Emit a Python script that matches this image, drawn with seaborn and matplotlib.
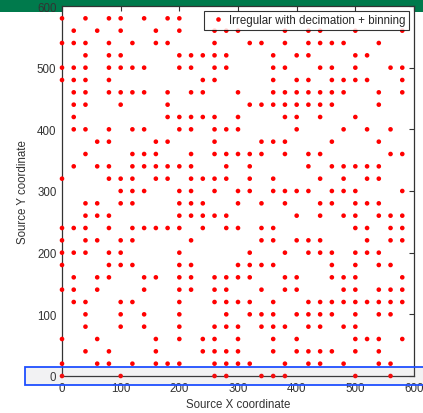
import matplotlib
matplotlib.use("Agg")
import matplotlib.pyplot as plt
import seaborn as sns
import pandas as pd
from matplotlib.patches import Rectangle

# x coordinates of the points present on each y level (grid step 20)
row_y000 = [0, 100, 260, 280, 340, 360, 380, 500, 560]
row_y020 = [0, 60, 80, 120, 160, 180, 200, 260, 280, 300, 320, 380, 420, 440, 480, 540, 560]
row_y040 = [40, 80, 160, 240, 260, 280, 300, 360, 400, 420, 440, 460, 500, 540]
row_y060 = [0, 60, 160, 200, 240, 260, 300, 360, 400, 500, 520, 540, 580]
row_y080 = [40, 100, 140, 200, 260, 280, 300, 340, 360, 380, 420, 440, 480, 500]
row_y100 = [40, 100, 140, 200, 280, 320, 340, 360, 400, 420, 440, 460, 500, 540, 560]
row_y120 = [20, 40, 100, 120, 200, 260, 280, 300, 320, 360, 420, 440, 460, 480, 500, 520, 540, 560, 580]
row_y140 = [0, 20, 60, 140, 200, 220, 260, 280, 340, 380, 400, 480, 500, 540, 560, 580]
row_y160 = [20, 60, 80, 140, 160, 200, 220, 260, 280, 300, 320, 380, 400, 460, 480, 500, 580]
row_y180 = [0, 80, 100, 120, 200, 220, 300, 320, 340, 360, 460, 500, 540, 560]
row_y200 = [0, 20, 40, 80, 100, 200, 320, 380, 420, 440, 460, 500, 520, 540]
row_y220 = [0, 40, 60, 100, 120, 220, 340, 360, 400, 420, 440, 520, 560, 580]
row_y240 = [0, 20, 40, 80, 120, 140, 160, 180, 200, 240, 280, 300, 340, 360, 500, 520, 560, 580]
row_y260 = [40, 60, 80, 200, 220, 240, 260, 280, 400, 440, 480, 500, 540, 560, 580]
row_y280 = [40, 60, 100, 120, 200, 220, 240, 300, 340, 380, 440, 460, 500, 520, 540]
row_y300 = [100, 120, 140, 200, 220, 260, 300, 320, 360, 380, 400, 420, 460, 480, 500, 580]
row_y320 = [0, 80, 100, 120, 160, 180, 220, 240, 260, 280, 320, 360, 440, 480, 520, 540]
row_y340 = [20, 60, 80, 120, 140, 160, 180, 200, 220, 280, 320, 420, 460, 480, 500, 520, 540]
row_y360 = [40, 120, 140, 160, 220, 260, 280, 300, 320, 340, 380, 420, 440, 560, 580]
row_y380 = [60, 80, 160, 180, 260, 340, 360, 380, 460, 540]
row_y400 = [20, 40, 80, 120, 140, 200, 220, 260, 280, 300, 400, 480, 520, 560]
row_y420 = [20, 180, 200, 220, 240, 260, 300, 380, 400, 440, 500]
row_y440 = [20, 40, 100, 180, 320, 340, 360, 380, 400, 420, 440, 460, 540]
row_y460 = [20, 40, 80, 100, 120, 140, 180, 220, 240, 300, 360, 380, 400, 420, 440, 460, 480, 540, 580]
row_y480 = [0, 20, 40, 80, 240, 260, 360, 400, 420, 460, 480, 500, 520, 580]
row_y500 = [0, 20, 40, 80, 100, 120, 140, 200, 220, 260, 280, 360, 380, 440, 460, 500, 560, 580]
row_y520 = [40, 80, 100, 200, 220, 240, 260, 280, 360, 400, 420, 500, 520]
row_y540 = [0, 20, 40, 80, 120, 160, 180, 260, 320, 340, 380, 420, 440, 460, 480, 540]
row_y560 = [20, 60, 100, 160, 200, 260, 280, 300, 380, 420, 440, 500, 580]
row_y580 = [0, 40, 80, 100, 140, 180, 200]

y_levels = list(range(0, 600, 20))
rows = [row_y000, row_y020, row_y040, row_y060, row_y080, row_y100, row_y120,
        row_y140, row_y160, row_y180, row_y200, row_y220, row_y240, row_y260,
        row_y280, row_y300, row_y320, row_y340, row_y360, row_y380, row_y400,
        row_y420, row_y440, row_y460, row_y480, row_y500, row_y520, row_y540,
        row_y560, row_y580]

series_label = "Irregular with decimation + binning"
x_label = "Source X coordinate"
y_label = "Source Y coordinate"
ticks = [0, 100, 200, 300, 400, 500, 600]

xs, ys = [], []
for yv, r in zip(y_levels, rows):
    for xv in r:
        xs.append(xv)
        ys.append(yv)
df = pd.DataFrame({"x": xs, "y": ys, "series": series_label})

sns.set_style("white")
plt.rcParams["font.family"] = ["Liberation Sans", "DejaVu Sans"]

W, H = 423, 414
fig = plt.figure(figsize=(W / 100, H / 100), dpi=100)

# green band at top
fig.patches.append(Rectangle((0, 1 - 13 / H), 1, 13 / H, transform=fig.transFigure,
                             facecolor="#007a4c", edgecolor="none", zorder=0))

ax = fig.add_axes([62 / W, (H - 377) / H, (414 - 62) / W, (377 - 7) / H])
ax.set_zorder(1)

sns.scatterplot(data=df, x="x", y="y", hue="series", palette=["#ff0000"],
                s=11, edgecolor="none", linewidth=0, ax=ax, clip_on=False, zorder=3)

ax.set_xlim(0, 600)
ax.set_ylim(0, 600)
ax.set_xticks(ticks)
ax.set_yticks(ticks)
ax.set_xlabel(x_label, fontsize=8.3, color="#333333", labelpad=3)
ax.set_ylabel(y_label, fontsize=8.3, color="#333333", labelpad=6)
ax.tick_params(direction="in", top=True, right=True, length=3.5, width=0.8,
               labelsize=8.3, labelcolor="#333333", color="#333333", pad=4)
for sp in ax.spines.values():
    sp.set_color("#333333")
    sp.set_linewidth(0.9)

leg = ax.legend(loc="upper right", fontsize=8.3, frameon=True, fancybox=False,
                borderpad=0.3, handletextpad=0.1, handlelength=1.8,
                borderaxespad=0.4, markerscale=1.0)
leg.get_frame().set_edgecolor("#000000")
leg.get_frame().set_linewidth(0.8)
leg.set_zorder(5)

# blue highlight rectangle around the y=0 row
fig.patches.append(Rectangle((25 / W, (H - 386) / H), (W - 25 + 5) / W, 18 / H,
                             transform=fig.transFigure, facecolor=(0.5, 0.5, 0.55, 0.1),
                             edgecolor="#1f4fff", linewidth=1.3, zorder=10))

fig.savefig("out.png", dpi=100)
